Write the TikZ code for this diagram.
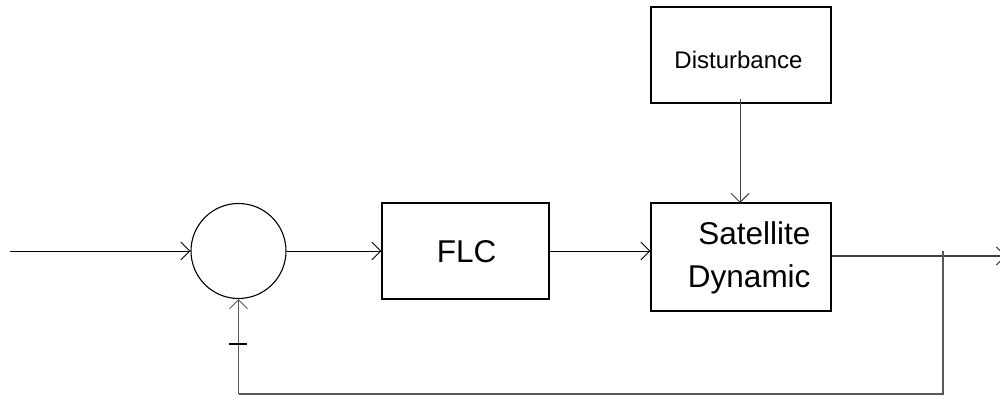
\documentclass[tikz,border=0pt]{standalone}
\usepackage{fontspec}
\setmainfont{Liberation Sans}
\usetikzlibrary{arrows.meta}
\begin{document}
\begin{tikzpicture}[x=1pt,y=-1pt,
  line width=1pt,
  arr/.style={-{Straight Barb[length=9pt,width=18pt,line width=0.9pt]}},
  blk/.style={draw=black,line width=1.1pt,fill=white,inner sep=0pt},
  big/.style={font=\fontsize{31.5}{36}\selectfont,inner sep=0pt},
  small/.style={font=\fontsize{24}{28}\selectfont,inner sep=0pt},
  fb/.style={draw=black!65,line width=1.4pt}]
\useasboundingbox[fill=white] (0,0) rectangle (1000,396);
\begin{scope}
\clip (0,0) rectangle (1000,396);
% blocks
\node[blk,circle,minimum size=95pt] (sum) at (238.5,251) {};
\node[blk,minimum width=167pt,minimum height=96pt] (flc) at (465.5,251) {};
\node[big,anchor=base] (flct) at (466.5,262) {FLC};
\node[blk,minimum width=180pt,minimum height=108pt] (sat) at (741,257) {};
\node[big,anchor=base east] (satt1) at (811,244) {Satellite};
\node[big,anchor=base east] (satt2) at (811,287) {Dynamic};
\node[blk,minimum width=180pt,minimum height=96pt] (dist) at (741,55) {};
\node[small,anchor=base] (distt) at (738.5,68) {Disturbance};
% connectors
\coordinate (in) at (10,251);
\draw[arr] (in) -- (sum.west);
\draw[arr] (sum.east) -- (flc.west);
\draw[arr] (flc.east) -- (flc.east -| sat.west);
\draw[arr,draw=black!75] (740,99) -- (740,203);
\coordinate (out) at (1006,256);
\draw[arr,draw=black!75,line width=1.2pt] (sat.east |- out) -- (out);
\coordinate (brtop) at (943,251);
\coordinate (c1) at (943,394);
\coordinate (c2) at (238.5,394);
\draw[fb] (brtop) -- (c1) -- (c2);
\draw[fb,arr] (c2) -- (sum.south);
\draw[line width=2.2pt] (229,344) -- (247,344);
\end{scope}
\end{tikzpicture}
\end{document}
